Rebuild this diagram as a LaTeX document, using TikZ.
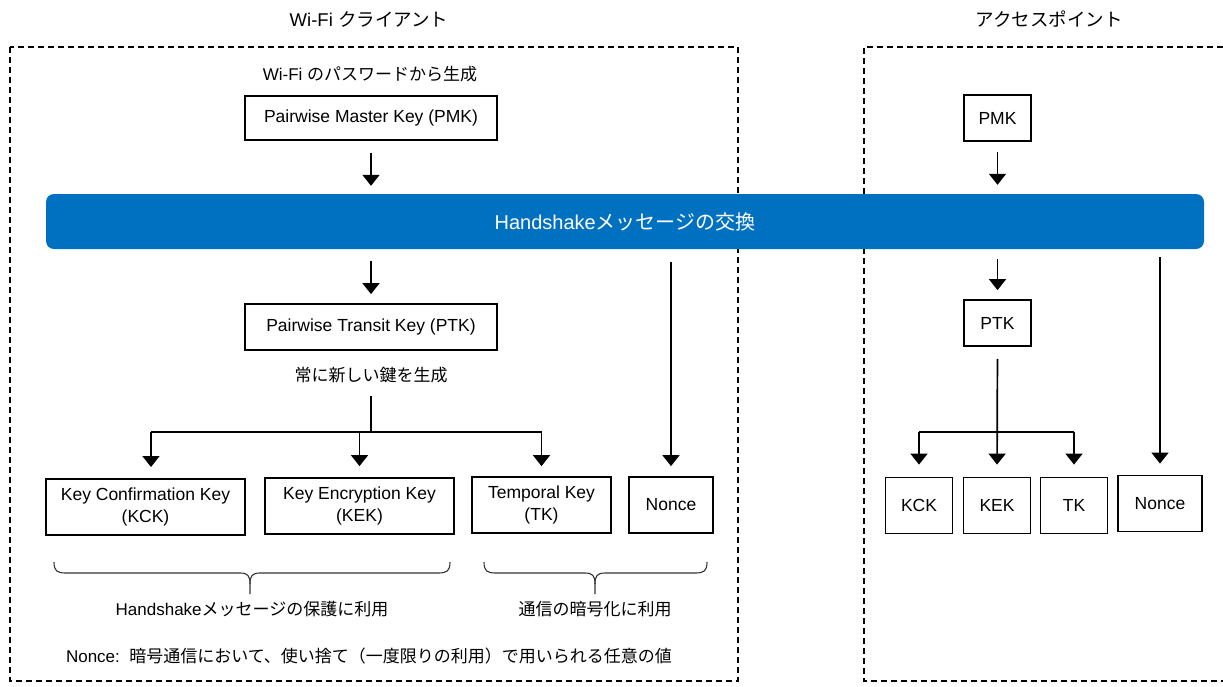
\documentclass[tikz,border=0pt]{standalone}
\usepackage{fontspec}
\setmainfont{Liberation Sans}
\newfontfamily\jpf{Noto Sans CJK JP}
\usetikzlibrary{arrows.meta,calc}
\definecolor{barblue}{HTML}{0070C0}
\tikzset{
  keybox/.style={draw, line width=1.8pt, align=center, inner sep=0pt,
    font=\fontsize{17.5}{22}\selectfont},
  arr/.style={-{Triangle[width=17pt,length=11pt]}, line width=1.7pt},
  ln/.style={line width=1.7pt},
  frame/.style={line width=1.4pt, dash pattern=on 6pt off 4pt},
  lbl/.style={inner sep=0pt, font=\fontsize{17}{22}\selectfont},
  ttl/.style={inner sep=0pt, font=\fontsize{18.5}{22}\selectfont},
  brc/.style={line width=1.1pt, black!80},
}
\begin{document}
\begin{tikzpicture}[x=1pt,y=-1pt]
\useasboundingbox (0,0) rectangle (1223,686);

% frames
\draw[frame] (10,47) rectangle (738,681);
\draw[frame] (1223,47) -- (864,47) -- (864,681) -- (1223,681);

% titles
\node[ttl] (t1) at (369,19) {Wi-Fi {\jpf クライアント}};
\node[ttl] (t2) at (1049,19) {\jpf アクセスポイント};

% handshake bar
\node[fill=barblue, rounded corners=8pt, minimum width=1158pt, minimum height=55pt,
      inner sep=0pt, text=white, font=\fontsize{20}{24}\selectfont] (bar) at (625,221.5)
      {Handshake{\jpf メッセージの交換}};

% ---------- client ----------
\node[lbl] (sub) at (370,74) {Wi-Fi {\jpf のパスワードから生成}};
\node[keybox, minimum width=252pt, minimum height=44pt] (pmkL) at (371,118) {Pairwise Master Key (PMK)};
\node[keybox, minimum width=252pt, minimum height=46pt] (ptkL) at (371,327) {Pairwise Transit Key (PTK)};
\node[lbl] (gen) at (371,375) {\jpf 常に新しい鍵を生成};

\node[keybox, minimum width=199pt, minimum height=56pt] (kckL) at (145.5,507) {Key Confirmation Key\\(KCK)};
\node[keybox, minimum width=189pt, minimum height=56pt] (kekL) at (359.5,506) {Key Encryption Key\\(KEK)};
\node[keybox, minimum width=139pt, minimum height=56pt] (tkL) at (541.5,505) {Temporal Key\\(TK)};
\node[keybox, minimum width=84pt, minimum height=56pt] (nonceL) at (671,505) {Nonce};

\draw[arr, shorten <=12pt, shorten >=8pt] (pmkL.south) -- (pmkL.south |- bar.north);
\draw[arr, shorten <=12pt, shorten >=9pt] (bar.south -| ptkL.north) -- (ptkL.north);
\coordinate (brL) at (371,432);
\draw[ln, shorten <=13pt] (gen.south) -- (brL);
\draw[ln] (151,432) -- (541.5,432);
\draw[arr, shorten >=12pt] (151,432) -- (151,479);
\draw[arr, shorten >=11pt] (kekL.north |- brL) -- (kekL.north);
\draw[arr, shorten >=10pt] (tkL.north |- brL) -- (tkL.north);
\draw[arr, shorten <=13pt, shorten >=10pt] (bar.south -| nonceL.north) -- (nonceL.north);

% braces
\draw[brc] (54,562) .. controls (54,571) and (57,573) .. (66,573) -- (240,573)
  .. controls (248,573) and (250,576) .. (250,584) -- (250,594);
\draw[brc] (250,584) .. controls (250,576) and (252,573) .. (260,573) -- (438,573)
  .. controls (447,573) and (450,571) .. (450,562);
\draw[brc] (484,562) .. controls (484,571) and (487,573) .. (496,573) -- (585,573)
  .. controls (593,573) and (595,576) .. (595,584) -- (595,594);
\draw[brc] (595,584) .. controls (595,576) and (597,573) .. (605,573) -- (695,573)
  .. controls (704,573) and (707,571) .. (707,562);

\node[lbl] (use1) at (252,609) {Handshake{\jpf メッセージの保護に利用}};
\node[lbl] (use2) at (595,609) {\jpf 通信の暗号化に利用};
\node[lbl] (note) at (369,656) {Nonce:\ \ {\jpf 暗号通信において、使い捨て（一度限りの利用）で用いられる任意の値}};

% ---------- access point ----------
\node[keybox, minimum width=67pt, minimum height=46pt] (pmkR) at (997.5,118) {PMK};
\node[keybox, minimum width=67pt, minimum height=46pt] (ptkR) at (997.5,323) {PTK};
\node[keybox, minimum width=67pt, minimum height=56pt] (kckR) at (919,505.5) {KCK};
\node[keybox, minimum width=67pt, minimum height=56pt] (kekR) at (997,505.5) {KEK};
\node[keybox, minimum width=67pt, minimum height=56pt] (tkR) at (1074,505.5) {TK};
\node[keybox, minimum width=84pt, minimum height=56pt] (nonceR) at (1160,503.5) {Nonce};

\draw[arr, shorten <=10pt, shorten >=9pt] (pmkR.south) -- (pmkR.south |- bar.north);
\draw[arr, shorten <=10pt, shorten >=9pt] (bar.south -| ptkR.north) -- (ptkR.north);
\coordinate (brR) at (997,432);
\draw[arr, shorten <=12pt, shorten >=12pt] (ptkR.south) -- (kekR.north);
\draw[ln] (kckR.north |- brR) -- (tkR.north |- brR);
\draw[arr, shorten >=12pt] (kckR.north |- brR) -- (kckR.north);
\draw[arr, shorten >=12pt] (tkR.north |- brR) -- (tkR.north);
\draw[arr, shorten <=8pt, shorten >=11pt] (bar.south -| nonceR.north) -- (nonceR.north);
\end{tikzpicture}
\end{document}
